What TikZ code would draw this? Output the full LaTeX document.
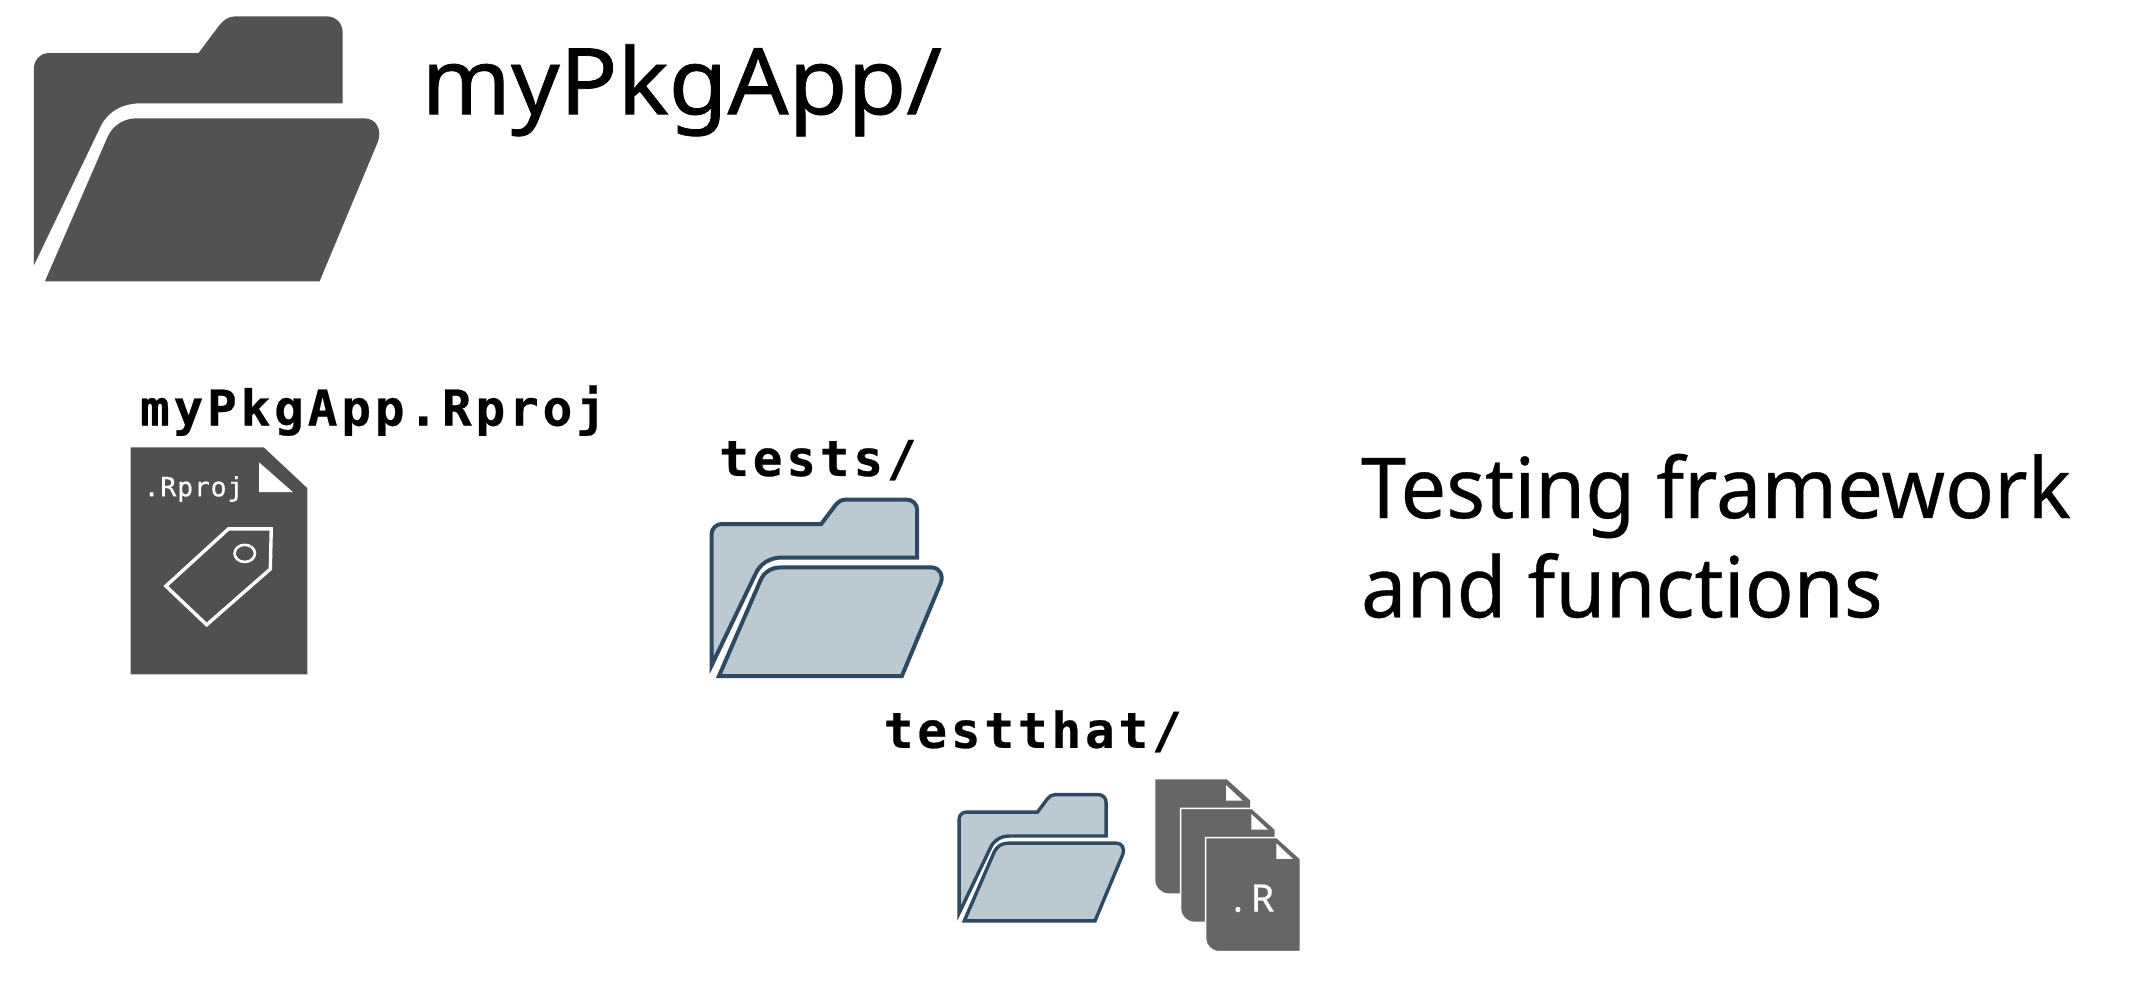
\documentclass[tikz,border=0pt]{standalone}
\usepackage{fontspec}
\setmainfont{Noto Sans}
\newfontfamily\labelmono[LetterSpace=7.7,FakeBold=0.5]{DejaVu Sans Mono Bold}
\newfontfamily\smallmono[LetterSpace=3,FakeBold=0.3]{DejaVu Sans Mono}
\newfontfamily\rootfont[FakeStretch=1.04,FakeBold=0.8]{Noto Sans}
\newfontfamily\descfont[FakeStretch=0.965,FakeBold=0.4]{Noto Sans}
\newfontfamily\extfont[LetterSpace=20,FakeBold=0.5]{Noto Sans}
\definecolor{folderdark}{HTML}{525252}
\definecolor{docdark}{HTML}{505050}
\definecolor{docgrey}{HTML}{666666}
\definecolor{folderblue}{HTML}{BBC9D3}
\definecolor{folderedge}{HTML}{2E4A62}
\tikzset{
  bigfolder/.style={fill=folderdark},
  bluefolder/.style={fill=folderblue,draw=folderedge},
  rootheading/.style={anchor=base west,inner sep=0pt,outer sep=0pt,text=black,font=\rootfont\fontsize{92}{92}\selectfont},
  descheading/.style={anchor=base west,inner sep=0pt,outer sep=0pt,text=black,font=\descfont\fontsize{84}{84}\selectfont},
  monolabel/.style={anchor=base west,inner sep=0pt,outer sep=0pt,text=black,font=\labelmono\fontsize{49.4}{50}\selectfont},
  rdoc/.style={fill=docgrey,draw=white,line width=1.4pt},
}
\newcommand{\folderat}[4]{%
  \begin{scope}[shift={(#1,#2)},scale=#3]
    \path[#4] (0,183) -- (0,38) .. controls (0,32) and (5,27) .. (11,27) -- (121,27) -- (136,7)
      .. controls (139,3) and (143,0) .. (148,0) -- (215,0) .. controls (222,0) and (227,5) .. (227,12)
      -- (227,64) -- (78,64) .. controls (64,64) and (53,71) .. (48,83) -- cycle;
    \path[#4] (8,195) -- (210,195) -- (253,92) .. controls (256,84) and (252,75) .. (243,75)
      -- (76,75) .. controls (66,75) and (58,80) .. (54,89) -- cycle;
  \end{scope}}
\newcommand{\rdocat}[3]{%
  \begin{scope}[shift={(#1,#2)}]
    \path[rdoc,#3] (0,0) -- (214,0) -- (284,63) -- (284,342) -- (40,342)
      .. controls (18,342) and (0,324) .. (0,302) -- cycle;
    \fill[white] (212,17) -- (212,64) -- (262,64) -- cycle;
  \end{scope}}
\begin{document}
\begin{tikzpicture}[x=1.3597pt,y=-1.3597pt]
  \useasboundingbox (0,0) rectangle (1568,738.4);
  % large folder
  \folderat{25}{12}{1}{bigfolder}
  \node[rootheading] (root) at (310,84) {myPkgApp/};
  % Rproj file
  \node[monolabel] (rprojlabel) at (103,313) {myPkgApp.Rproj};
  \fill[docdark] (96,329) -- (194,329) -- (226,359) -- (226,496) -- (96,496) -- cycle;
  \fill[white] (190.5,340) -- (190.5,362) -- (215.5,362) -- cycle;
  \node[anchor=base west,inner sep=0pt,text=white,font=\smallmono\fontsize{26.5}{27}\selectfont] (rprojext) at (105.5,365) {.Rproj};
  \draw[white,line width=3.4pt,line join=miter] (168,389) -- (199.5,389) -- (198.8,418.5) -- (152,459.5) -- (122,431) -- cycle;
  \draw[white,line width=2.6pt] (180,407) ellipse (7.5 and 6.3);
  % tests folder
  \node[monolabel] (testslabel) at (529,350) {tests/};
  \folderat{523.4}{367.4}{0.666}{bluefolder,line width=4pt}
  % testthat folder and R files
  \node[monolabel] (testthatlabel) at (650,550) {testthat/};
  \folderat{705.4}{584.4}{0.476}{bluefolder,line width=3.4pt}
  \begin{scope}[shift={(647.2,514.8)},scale=0.24515]
    \rdocat{826}{238}{draw=none}
    \rdocat{902}{325}{}
    \rdocat{977}{413}{}
    \node[anchor=base west,inner sep=0pt,text=white,font=\extfont\fontsize{38}{38}\selectfont] (rext) at (1058,635) {.R};
  \end{scope}
  % description
  \node[descheading] (desc1) at (1001,381) {Testing framework};
  \node[descheading] (desc2) at (1001,454) {and functions};
\end{tikzpicture}
\end{document}
